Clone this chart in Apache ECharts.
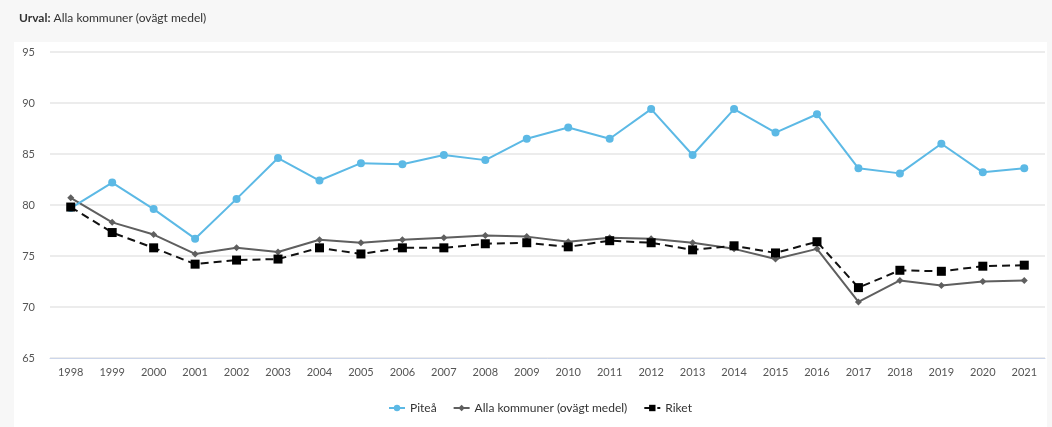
<!DOCTYPE html>
<html><head><meta charset="utf-8">
<script src="https://cdn.jsdelivr.net/npm/echarts@6/dist/echarts.min.js"></script>
<style>html,body{margin:0;padding:0;background:#f7f7f7;}#c{width:1052px;height:427px;}</style>
</head><body><div id="c"></div>
<script>
const years = ['1998','1999','2000','2001','2002','2003','2004','2005','2006','2007','2008','2009','2010','2011','2012','2013','2014','2015','2016','2017','2018','2019','2020','2021'];
const pitea = [79.7,82.2,79.6,76.7,80.6,84.6,82.4,84.1,84.0,84.9,84.4,86.5,87.6,86.5,89.4,84.9,89.4,87.1,88.9,83.6,83.1,86.0,83.2,83.6];
const allaKommuner = [80.7,78.3,77.1,75.2,75.8,75.4,76.6,76.3,76.6,76.8,77.0,76.9,76.4,76.8,76.7,76.3,75.7,74.7,75.7,70.5,72.6,72.1,72.5,72.6];
const riket = [79.8,77.3,75.8,74.2,74.6,74.7,75.8,75.2,75.8,75.8,76.2,76.3,75.9,76.5,76.3,75.6,76.0,75.3,76.4,71.9,73.6,73.5,74.0,74.1];
const yTicks = {min:65, max:95, interval:5};

const chart = echarts.init(document.getElementById('c'), null, {renderer:'canvas'});
const font = 'Lato, "DejaVu Sans", sans-serif';
chart.setOption({
  backgroundColor:'#f7f7f7',
  animation:false,
  graphic:[{type:'rect', left:14, top:42, shape:{width:1033, height:385}, style:{fill:'#ffffff'}, z:-10}],
  title:{
    left:14, top:7,
    text:'{b|Urval:} Alla kommuner (ovägt medel)',
    textStyle:{fontFamily:font, fontSize:12, color:'#333', fontWeight:'normal',
      rich:{b:{fontFamily:font, fontSize:12, fontWeight:'bold', color:'#333'}}}
  },
  grid:{left:50, right:7, top:52, bottom:69},
  legend:{
    top:397, left:383, itemGap:16, itemWidth:16, itemHeight:8,
    textStyle:{fontFamily:font, fontSize:12, color:'#333'},
    data:['Piteå','Alla kommuner (ovägt medel)','Riket']
  },
  xAxis:{
    type:'category', data:years, boundaryGap:true,
    axisLine:{lineStyle:{color:'#ccd6eb', width:1}},
    axisTick:{show:false},
    axisLabel:{fontFamily:font, fontSize:11, color:'#555', margin:9}
  },
  yAxis:{
    type:'value', min:yTicks.min, max:yTicks.max, interval:yTicks.interval,
    axisLine:{show:false}, axisTick:{show:false},
    splitLine:{lineStyle:{color:'#e6e6e6', width:1.5}},
    axisLabel:{fontFamily:font, fontSize:11, color:'#555', margin:15}
  },
  series:[
    {name:'Piteå', type:'line', data:pitea, symbol:'circle', symbolSize:8,
     itemStyle:{color:'#5cb9e5'}, lineStyle:{color:'#5cb9e5', width:2}, z:3},
    {name:'Alla kommuner (ovägt medel)', type:'line', data:allaKommuner, symbol:'diamond', symbolSize:7,
     itemStyle:{color:'#5f5f5f'}, lineStyle:{color:'#5f5f5f', width:2}, z:2},
    {name:'Riket', type:'line', data:riket, symbol:'rect', symbolSize:9,
     itemStyle:{color:'#000'}, lineStyle:{color:'#111', width:2, type:[8,5]}, z:4}
  ]
});
</script></body></html>
